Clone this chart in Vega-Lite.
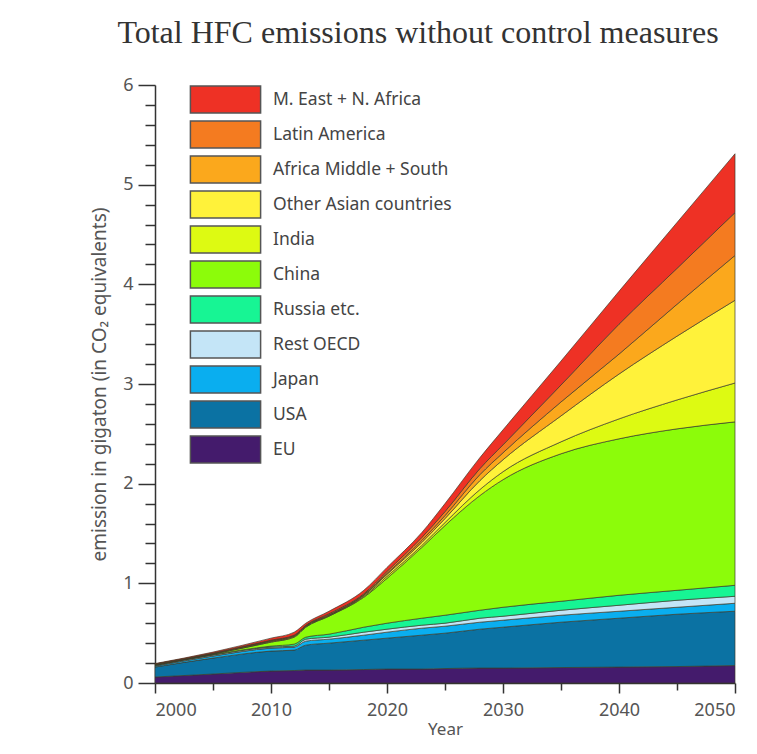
{
  "$schema": "https://vega.github.io/schema/vega-lite/v6.json",
  "width": 580,
  "height": 598,
  "autosize": {"type": "none"},
  "padding": {"left": 155, "top": 85, "right": 22, "bottom": 71},
  "background": "white",
  "title": {"text": "Total HFC emissions without control measures", "font": "Liberation Serif", "fontSize": 32, "fontWeight": "normal", "color": "#333333", "anchor": "middle", "dx": -27, "offset": 26},
  "data": {"values": [
    {"year":2000,"region":"EU","value":0.06},{"year":2000,"region":"USA","value":0.10},{"year":2000,"region":"Japan","value":0.01},{"year":2000,"region":"Rest OECD","value":0.005},{"year":2000,"region":"Russia etc.","value":0.005},{"year":2000,"region":"China","value":0.002},{"year":2000,"region":"India","value":0.002},{"year":2000,"region":"Other Asian countries","value":0.002},{"year":2000,"region":"Africa Middle + South","value":0.002},{"year":2000,"region":"Latin America","value":0.002},{"year":2000,"region":"M. East + N. Africa","value":0.005},
    {"year":2005,"region":"EU","value":0.09},{"year":2005,"region":"USA","value":0.16},{"year":2005,"region":"Japan","value":0.02},{"year":2005,"region":"Rest OECD","value":0.01},{"year":2005,"region":"Russia etc.","value":0.005},{"year":2005,"region":"China","value":0.005},{"year":2005,"region":"India","value":0.003},{"year":2005,"region":"Other Asian countries","value":0.003},{"year":2005,"region":"Africa Middle + South","value":0.002},{"year":2005,"region":"Latin America","value":0.002},{"year":2005,"region":"M. East + N. Africa","value":0.01},
    {"year":2010,"region":"EU","value":0.12},{"year":2010,"region":"USA","value":0.20},{"year":2010,"region":"Japan","value":0.03},{"year":2010,"region":"Rest OECD","value":0.01},{"year":2010,"region":"Russia etc.","value":0.01},{"year":2010,"region":"China","value":0.04},{"year":2010,"region":"India","value":0.005},{"year":2010,"region":"Other Asian countries","value":0.005},{"year":2010,"region":"Africa Middle + South","value":0.005},{"year":2010,"region":"Latin America","value":0.005},{"year":2010,"region":"M. East + N. Africa","value":0.02},
    {"year":2012,"region":"EU","value":0.125},{"year":2012,"region":"USA","value":0.205},{"year":2012,"region":"Japan","value":0.03},{"year":2012,"region":"Rest OECD","value":0.01},{"year":2012,"region":"Russia etc.","value":0.02},{"year":2012,"region":"China","value":0.07},{"year":2012,"region":"India","value":0.005},{"year":2012,"region":"Other Asian countries","value":0.005},{"year":2012,"region":"Africa Middle + South","value":0.005},{"year":2012,"region":"Latin America","value":0.005},{"year":2012,"region":"M. East + N. Africa","value":0.03},
    {"year":2013,"region":"EU","value":0.13},{"year":2013,"region":"USA","value":0.25},{"year":2013,"region":"Japan","value":0.04},{"year":2013,"region":"Rest OECD","value":0.02},{"year":2013,"region":"Russia etc.","value":0.02},{"year":2013,"region":"China","value":0.10},{"year":2013,"region":"India","value":0.005},{"year":2013,"region":"Other Asian countries","value":0.005},{"year":2013,"region":"Africa Middle + South","value":0.005},{"year":2013,"region":"Latin America","value":0.005},{"year":2013,"region":"M. East + N. Africa","value":0.02},
    {"year":2015,"region":"EU","value":0.13},{"year":2015,"region":"USA","value":0.27},{"year":2015,"region":"Japan","value":0.04},{"year":2015,"region":"Rest OECD","value":0.02},{"year":2015,"region":"Russia etc.","value":0.03},{"year":2015,"region":"China","value":0.18},{"year":2015,"region":"India","value":0.005},{"year":2015,"region":"Other Asian countries","value":0.005},{"year":2015,"region":"Africa Middle + South","value":0.005},{"year":2015,"region":"Latin America","value":0.01},{"year":2015,"region":"M. East + N. Africa","value":0.025},
    {"year":2018,"region":"EU","value":0.135},{"year":2018,"region":"USA","value":0.295},{"year":2018,"region":"Japan","value":0.05},{"year":2018,"region":"Rest OECD","value":0.03},{"year":2018,"region":"Russia etc.","value":0.05},{"year":2018,"region":"China","value":0.30},{"year":2018,"region":"India","value":0.01},{"year":2018,"region":"Other Asian countries","value":0.01},{"year":2018,"region":"Africa Middle + South","value":0.005},{"year":2018,"region":"Latin America","value":0.01},{"year":2018,"region":"M. East + N. Africa","value":0.035},
    {"year":2020,"region":"EU","value":0.14},{"year":2020,"region":"USA","value":0.31},{"year":2020,"region":"Japan","value":0.06},{"year":2020,"region":"Rest OECD","value":0.03},{"year":2020,"region":"Russia etc.","value":0.06},{"year":2020,"region":"China","value":0.45},{"year":2020,"region":"India","value":0.02},{"year":2020,"region":"Other Asian countries","value":0.02},{"year":2020,"region":"Africa Middle + South","value":0.01},{"year":2020,"region":"Latin America","value":0.02},{"year":2020,"region":"M. East + N. Africa","value":0.04},
    {"year":2023,"region":"EU","value":0.14},{"year":2023,"region":"USA","value":0.34},{"year":2023,"region":"Japan","value":0.07},{"year":2023,"region":"Rest OECD","value":0.03},{"year":2023,"region":"Russia etc.","value":0.07},{"year":2023,"region":"China","value":0.71},{"year":2023,"region":"India","value":0.02},{"year":2023,"region":"Other Asian countries","value":0.03},{"year":2023,"region":"Africa Middle + South","value":0.02},{"year":2023,"region":"Latin America","value":0.03},{"year":2023,"region":"M. East + N. Africa","value":0.05},
    {"year":2025,"region":"EU","value":0.145},{"year":2025,"region":"USA","value":0.355},{"year":2025,"region":"Japan","value":0.07},{"year":2025,"region":"Rest OECD","value":0.03},{"year":2025,"region":"Russia etc.","value":0.08},{"year":2025,"region":"China","value":0.90},{"year":2025,"region":"India","value":0.03},{"year":2025,"region":"Other Asian countries","value":0.04},{"year":2025,"region":"Africa Middle + South","value":0.03},{"year":2025,"region":"Latin America","value":0.04},{"year":2025,"region":"M. East + N. Africa","value":0.08},
    {"year":2028,"region":"EU","value":0.15},{"year":2028,"region":"USA","value":0.39},{"year":2028,"region":"Japan","value":0.07},{"year":2028,"region":"Rest OECD","value":0.04},{"year":2028,"region":"Russia etc.","value":0.08},{"year":2028,"region":"China","value":1.15},{"year":2028,"region":"India","value":0.06},{"year":2028,"region":"Other Asian countries","value":0.09},{"year":2028,"region":"Africa Middle + South","value":0.06},{"year":2028,"region":"Latin America","value":0.06},{"year":2028,"region":"M. East + N. Africa","value":0.11},
    {"year":2030,"region":"EU","value":0.15},{"year":2030,"region":"USA","value":0.41},{"year":2030,"region":"Japan","value":0.07},{"year":2030,"region":"Rest OECD","value":0.04},{"year":2030,"region":"Russia etc.","value":0.09},{"year":2030,"region":"China","value":1.28},{"year":2030,"region":"India","value":0.08},{"year":2030,"region":"Other Asian countries","value":0.12},{"year":2030,"region":"Africa Middle + South","value":0.07},{"year":2030,"region":"Latin America","value":0.08},{"year":2030,"region":"M. East + N. Africa","value":0.15},
    {"year":2035,"region":"EU","value":0.155},{"year":2035,"region":"USA","value":0.455},{"year":2035,"region":"Japan","value":0.07},{"year":2035,"region":"Rest OECD","value":0.05},{"year":2035,"region":"Russia etc.","value":0.09},{"year":2035,"region":"China","value":1.48},{"year":2035,"region":"India","value":0.12},{"year":2035,"region":"Other Asian countries","value":0.26},{"year":2035,"region":"Africa Middle + South","value":0.14},{"year":2035,"region":"Latin America","value":0.17},{"year":2035,"region":"M. East + N. Africa","value":0.24},
    {"year":2040,"region":"EU","value":0.16},{"year":2040,"region":"USA","value":0.49},{"year":2040,"region":"Japan","value":0.07},{"year":2040,"region":"Rest OECD","value":0.06},{"year":2040,"region":"Russia etc.","value":0.10},{"year":2040,"region":"China","value":1.57},{"year":2040,"region":"India","value":0.20},{"year":2040,"region":"Other Asian countries","value":0.45},{"year":2040,"region":"Africa Middle + South","value":0.20},{"year":2040,"region":"Latin America","value":0.30},{"year":2040,"region":"M. East + N. Africa","value":0.33},
    {"year":2045,"region":"EU","value":0.165},{"year":2045,"region":"USA","value":0.525},{"year":2045,"region":"Japan","value":0.07},{"year":2045,"region":"Rest OECD","value":0.07},{"year":2045,"region":"Russia etc.","value":0.10},{"year":2045,"region":"China","value":1.62},{"year":2045,"region":"India","value":0.29},{"year":2045,"region":"Other Asian countries","value":0.64},{"year":2045,"region":"Africa Middle + South","value":0.32},{"year":2045,"region":"Latin America","value":0.36},{"year":2045,"region":"M. East + N. Africa","value":0.46},
    {"year":2050,"region":"EU","value":0.175},{"year":2050,"region":"USA","value":0.545},{"year":2050,"region":"Japan","value":0.08},{"year":2050,"region":"Rest OECD","value":0.07},{"year":2050,"region":"Russia etc.","value":0.11},{"year":2050,"region":"China","value":1.64},{"year":2050,"region":"India","value":0.39},{"year":2050,"region":"Other Asian countries","value":0.83},{"year":2050,"region":"Africa Middle + South","value":0.45},{"year":2050,"region":"Latin America","value":0.43},{"year":2050,"region":"M. East + N. Africa","value":0.59}
  ]},
  "transform": [
    {"calculate": "indexof(['EU', 'USA', 'Japan', 'Rest OECD', 'Russia etc.', 'China', 'India', 'Other Asian countries', 'Africa Middle + South', 'Latin America', 'M. East + N. Africa'], datum.region)", "as": "stackOrder"}
  ],
  "mark": {"type": "area", "interpolate": "monotone", "stroke": "#3a3a2a", "strokeWidth": 0.8, "strokeOpacity": 0.85},
  "encoding": {
    "x": {
      "field": "year", "type": "quantitative",
      "scale": {"domain": [2000, 2050], "nice": false, "zero": false},
      "axis": {
        "title": "Year", "values": [2000, 2005, 2010, 2015, 2020, 2025, 2030, 2035, 2040, 2045, 2050],
        "format": "d", "labelExpr": "datum.value % 10 === 0 ? datum.label : ''",
        "grid": false, "domainColor": "#333333", "domainWidth": 1.5,
        "tickColor": "#333333", "tickWidth": 1.5,
        "tickSize": {"condition": {"test": "datum.value % 10 === 0", "value": 10}, "value": 7},
        "labelFont": "Noto Sans", "labelFontSize": 18, "labelColor": "#555555", "labelPadding": 8,
        "titleFont": "Noto Sans", "titleFontSize": 17, "titleFontWeight": "normal", "titleColor": "#555555", "titlePadding": 2
      }
    },
    "y": {
      "field": "value", "type": "quantitative", "stack": "zero",
      "scale": {"domain": [0, 6], "nice": false},
      "axis": {
        "title": "emission in gigaton (in CO₂ equivalents)",
        "values": [0, 0.2, 0.4, 0.6, 0.8, 1, 1.2, 1.4, 1.6, 1.8, 2, 2.2, 2.4, 2.6, 2.8, 3, 3.2, 3.4, 3.6, 3.8, 4, 4.2, 4.4, 4.6, 4.8, 5, 5.2, 5.4, 5.6, 5.8, 6],
        "labelExpr": "datum.value % 1 === 0 ? format(datum.value, 'd') : ''",
        "labelOverlap": false,
        "grid": false, "domainColor": "#333333", "domainWidth": 1.5,
        "tickColor": "#333333", "tickWidth": 1.5,
        "tickSize": {"condition": {"test": "datum.value % 1 === 0", "value": 17}, "value": 10},
        "labelFont": "Noto Sans", "labelFontSize": 18, "labelColor": "#555555", "labelPadding": 5,
        "titleFont": "Noto Sans", "titleFontSize": 19, "titleFontWeight": "normal", "titleColor": "#555555", "titlePadding": 13
      }
    },
    "order": {"field": "stackOrder", "type": "quantitative", "sort": "ascending"},
    "color": {
      "field": "region", "type": "nominal",
      "scale": {
        "domain": ["EU", "USA", "Japan", "Rest OECD", "Russia etc.", "China", "India", "Other Asian countries", "Africa Middle + South", "Latin America", "M. East + N. Africa"],
        "range": ["#441B6C", "#0B72A3", "#0AAEEF", "#C4E5F7", "#17F594", "#8CFC0A", "#DDFA12", "#FFF23A", "#FBA81C", "#F47B20", "#EE3125"]
      },
      "legend": {
        "title": null, "orient": "none", "legendX": 56, "legendY": 0,
        "values": ["M. East + N. Africa", "Latin America", "Africa Middle + South", "Other Asian countries", "India", "China", "Russia etc.", "Rest OECD", "Japan", "USA", "EU"],
        "symbolType": "M-2.6,-1H2.6V1H-2.6Z", "symbolSize": 729, "symbolOpacity": 1,
        "symbolStrokeColor": "#555555", "symbolStrokeWidth": 1.5,
        "rowPadding": 2, "labelOffset": 33,
        "labelFont": "Noto Sans", "labelFontSize": 17.5, "labelColor": "#444444", "labelLimit": 300
      }
    }
  },
  "config": {"view": {"stroke": null}}
}
